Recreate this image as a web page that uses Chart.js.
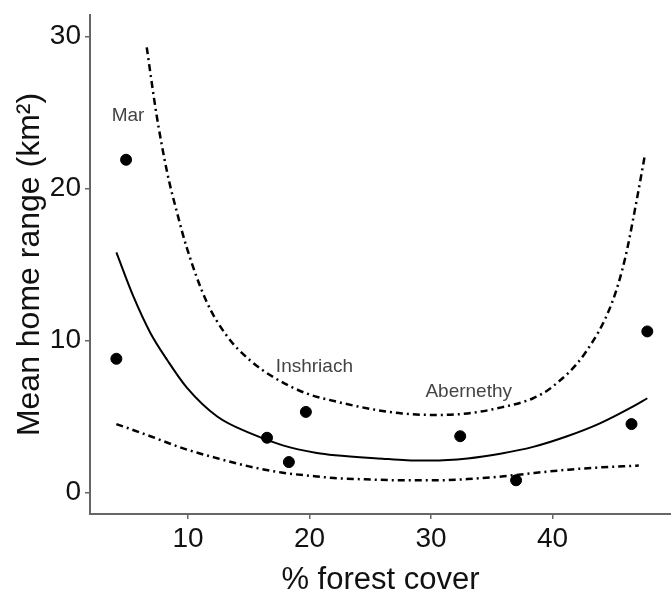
<!DOCTYPE html>
<html>
<head>
<meta charset="utf-8">
<script src="https://cdn.jsdelivr.net/npm/chart.js@4"></script>
<style>
  body { margin: 0; background: #fff; }
  #wrap { width: 671px; height: 594px; }
</style>
</head>
<body>
<div id="wrap"><canvas id="chart" width="671" height="594"></canvas></div>
<script>
// observed sites
const coverX = [4.9, 4.1, 16.5, 18.3, 19.7, 32.4, 37.0, 46.5, 47.8];
const rangeY = [21.9, 8.8, 3.6, 2.0, 5.3, 3.7, 0.8, 4.5, 10.6];

// fitted curve
const fitX = [4.1, 5.5, 6.9, 8.3, 9.9, 12.4, 15.1, 17.8, 20.6, 22.1, 26, 28, 30, 33, 35.7, 38.4, 41.2, 43.9, 46.6, 47.8];
const fitY = [15.8, 12.9, 10.5, 8.7, 6.9, 5.0, 3.9, 3.1, 2.6, 2.45, 2.22, 2.12, 2.1, 2.24, 2.55, 3.0, 3.7, 4.55, 5.65, 6.2];

// upper and lower bounds
const upperX = [6.6, 7.4, 8.3, 9.1, 9.9, 11.5, 13.2, 15.1, 17.0, 19.8, 22.1, 25, 27.6, 30.3, 33, 35.8, 38.4, 39.9, 42.7, 44.9, 46.0, 46.8, 47.6];
const upperY = [29.3, 24.9, 21.0, 18.4, 16.1, 12.6, 10.3, 8.7, 7.6, 6.5, 6.0, 5.5, 5.2, 5.1, 5.2, 5.6, 6.2, 6.9, 9.2, 12.5, 15.5, 18.7, 22.2];
const lowerX = [4.1, 6.9, 9.6, 12.4, 15.1, 17.8, 20.6, 22, 25, 27.6, 30.3, 33, 35.8, 38.5, 41.3, 44, 47.1];
const lowerY = [4.5, 3.7, 2.9, 2.25, 1.7, 1.3, 1.05, 0.95, 0.85, 0.8, 0.8, 0.88, 1.05, 1.28, 1.5, 1.65, 1.77];

// site labels (data coordinates)
const siteNames = ["Mar", "Inshriach", "Abernethy"];
const siteX = [5.06, 20.4, 33.1];
const siteY = [24.8, 8.3, 6.6];

const xTicks = [10, 20, 30, 40];
const yTicks = [0, 10, 20, 30];

const FONT = '"Liberation Sans", Arial, sans-serif';
const toXY = (xs, ys) => xs.map((v, i) => ({ x: v, y: ys[i] }));

const siteLabels = {
  id: "siteLabels",
  afterDatasetsDraw(chart) {
    const { ctx, scales: { x, y } } = chart;
    ctx.save();
    ctx.font = "19px " + FONT;
    ctx.fillStyle = "#444";
    ctx.textAlign = "center";
    ctx.textBaseline = "middle";
    siteNames.forEach((name, i) => {
      ctx.fillText(name, x.getPixelForValue(siteX[i]), y.getPixelForValue(siteY[i]));
    });
    ctx.restore();
  },
};

const curve = (data, dash, width) => ({
  data: data,
  showLine: true,
  borderColor: "#000",
  borderWidth: width,
  borderDash: dash,
  pointRadius: 0,
  cubicInterpolationMode: "monotone",
  fill: false,
});

new Chart(document.getElementById("chart"), {
  type: "scatter",
  data: {
    datasets: [
      {
        data: toXY(coverX, rangeY),
        backgroundColor: "#000",
        borderColor: "#000",
        pointRadius: 5.5,
      },
      curve(toXY(fitX, fitY), [], 2),
      curve(toXY(upperX, upperY), [7, 4, 2, 4], 2.5),
      curve(toXY(lowerX, lowerY), [7, 4, 2, 4], 2.5),
    ],
  },
  options: {
    responsive: false,
    animation: false,
    layout: { autoPadding: false, padding: { top: 15, right: 0, left: 0, bottom: 0 } },
    plugins: { legend: { display: false }, tooltip: { enabled: false } },
    scales: {
      x: {
        type: "linear",
        min: 1.93,
        max: 49.75,
        afterBuildTicks: (s) => { s.ticks = xTicks.map((v) => ({ value: v })); },
        afterFit: (s) => { s.height = 80; s.paddingLeft = 0; s.paddingRight = 0; },
        grid: { drawOnChartArea: false, drawTicks: true, tickLength: 5, color: "#666", lineWidth: 1.5 },
        border: { display: true, color: "#666", width: 2 },
        ticks: { padding: 3, color: "#111", font: { size: 28, family: FONT } },
        title: {
          display: true,
          text: "% forest cover",
          color: "#111",
          padding: { top: 0, bottom: 0 },
          font: { size: 31, family: FONT, lineHeight: 0.9 },
        },
      },
      y: {
        min: -1.42,
        max: 31.43,
        afterBuildTicks: (s) => { s.ticks = yTicks.map((v) => ({ value: v })); },
        afterFit: (s) => { s.width = 90; s.paddingTop = 0; s.paddingBottom = 0; },
        grid: { drawOnChartArea: false, drawTicks: true, tickLength: 5, color: "#666", lineWidth: 1.5 },
        border: { display: true, color: "#666", width: 2 },
        ticks: { padding: 4, color: "#111", font: { size: 28, family: FONT } },
        title: {
          display: true,
          text: "Mean home range (km²)",
          color: "#111",
          padding: { top: 16, bottom: 0 },
          font: { size: 32, family: FONT, lineHeight: 0.9 },
        },
      },
    },
  },
  plugins: [siteLabels],
});
</script>
</body>
</html>
